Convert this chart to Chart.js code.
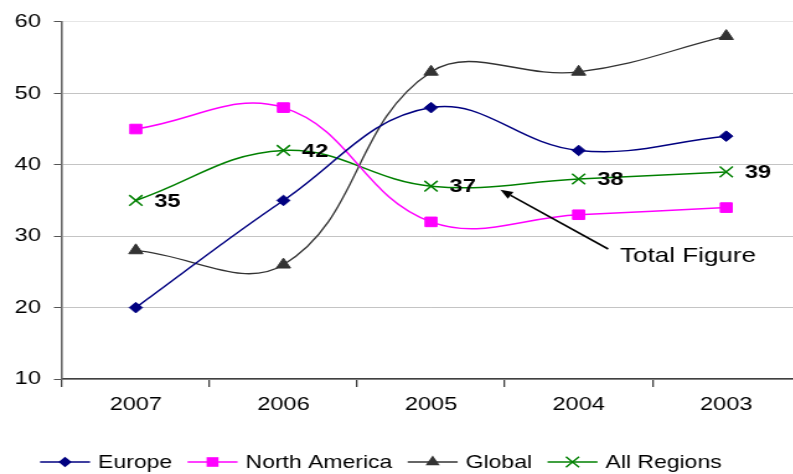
<!DOCTYPE html>
<html>
<head>
<meta charset="utf-8">
<script src="https://cdn.jsdelivr.net/npm/chart.js@4/dist/chart.umd.min.js"></script>
<style>
  html, body { margin: 0; padding: 0; background: #fff; overflow: hidden; width: 793px; height: 474px; }
  /* the chart is laid out narrow and widened horizontally */
  #frame { position: absolute; left: 0; top: 0; width: 680px; height: 474px; transform-origin: 0 0; transform: scaleX(1.24); }
</style>
</head>
<body>
<div id="frame"><canvas id="c"></canvas></div>
<script>
// ---- data ----
const years = ['2007', '2006', '2005', '2004', '2003'];
const europe = [20, 35, 48, 42, 44];
const northAmerica = [45, 48, 32, 33, 34];
const globalSeries = [28, 26, 53, 53, 58];
const allRegions = [35, 42, 37, 38, 39];
const yTicks = [10, 20, 30, 40, 50, 60];
const seriesNames = ['Europe', 'North America', 'Global', 'All Regions'];
const calloutText = 'Total Figure';

// ---- styling ----
const FONT = "'Liberation Sans', Arial, Helvetica, sans-serif";
const callout = { tip: [2.47, 36.5], tail: [3.2, 28.2], text: [3.28, 27.2] };

function drawMarker(ctx, style, x, y, r, color) {
  ctx.save();
  ctx.fillStyle = color;
  ctx.strokeStyle = color;
  ctx.lineWidth = 1.5;
  ctx.beginPath();
  if (style === 'rectRot') {
    ctx.moveTo(x - r, y); ctx.lineTo(x, y - r); ctx.lineTo(x + r, y); ctx.lineTo(x, y + r);
    ctx.closePath(); ctx.fill();
  } else if (style === 'rect') {
    const s = r * Math.SQRT1_2;
    ctx.rect(x - s, y - s, 2 * s, 2 * s); ctx.fill();
  } else if (style === 'triangle') {
    let a = 0;
    ctx.moveTo(x + Math.sin(a) * r, y - Math.cos(a) * r);
    a += 2 * Math.PI / 3;
    ctx.lineTo(x + Math.sin(a) * r, y - Math.cos(a) * r);
    a += 2 * Math.PI / 3;
    ctx.lineTo(x + Math.sin(a) * r, y - Math.cos(a) * r);
    ctx.closePath(); ctx.fill();
  } else if (style === 'crossRot') {
    const d = r * Math.SQRT1_2;
    ctx.moveTo(x - d, y - d); ctx.lineTo(x + d, y + d);
    ctx.moveTo(x - d, y + d); ctx.lineTo(x + d, y - d);
    ctx.stroke();
  }
  ctx.restore();
}

// bold values beside the All Regions markers
const valueLabels = {
  id: 'valueLabels',
  afterDatasetsDraw(chart) {
    const ctx = chart.ctx;
    const meta = chart.getDatasetMeta(3);
    ctx.save();
    ctx.font = 'bold 19px ' + FONT;
    ctx.fillStyle = '#000';
    ctx.textBaseline = 'middle';
    ctx.textAlign = 'left';
    meta.data.forEach((pt, i) => {
      ctx.fillText(String(allRegions[i]), pt.x + 15, pt.y + 1);
    });
    ctx.restore();
  }
};

// arrow and caption pointing at the All Regions line
const calloutPlugin = {
  id: 'callout',
  afterDatasetsDraw(chart) {
    const { ctx, scales: { x, y } } = chart;
    const tx = x.getPixelForValue(callout.tip[0]), ty = y.getPixelForValue(callout.tip[1]);
    const sx = x.getPixelForValue(callout.tail[0]), sy = y.getPixelForValue(callout.tail[1]);
    const ang = Math.atan2(ty - sy, tx - sx);
    const headLen = 10, headW = 4;
    const bx = tx - Math.cos(ang) * headLen, by = ty - Math.sin(ang) * headLen;
    ctx.save();
    ctx.strokeStyle = '#000';
    ctx.fillStyle = '#000';
    ctx.lineWidth = 1.6;
    ctx.beginPath();
    ctx.moveTo(sx, sy);
    ctx.lineTo(bx, by);
    ctx.stroke();
    ctx.beginPath();
    ctx.moveTo(tx, ty);
    ctx.lineTo(bx + Math.sin(ang) * headW, by - Math.cos(ang) * headW);
    ctx.lineTo(bx - Math.sin(ang) * headW, by + Math.cos(ang) * headW);
    ctx.closePath();
    ctx.fill();
    ctx.font = '21px ' + FONT;
    ctx.textBaseline = 'middle';
    ctx.textAlign = 'left';
    ctx.fillText(calloutText, x.getPixelForValue(callout.text[0]), y.getPixelForValue(callout.text[1]));
    ctx.restore();
  }
};

// legend row: line segment with its marker, then the series name
const lineLegend = {
  id: 'lineLegend',
  afterDraw(chart) {
    const ctx = chart.ctx;
    const yMid = 462;
    let xPos = 32.3;
    const symW = 40.3, gap = 6.5, itemGap = 12.5;
    ctx.save();
    ctx.font = '18.5px ' + FONT;
    ctx.textBaseline = 'middle';
    ctx.textAlign = 'left';
    chart.data.datasets.forEach(ds => {
      ctx.strokeStyle = ds.borderColor;
      ctx.lineWidth = ds.borderWidth;
      ctx.beginPath();
      ctx.moveTo(xPos, yMid);
      ctx.lineTo(xPos + symW, yMid);
      ctx.stroke();
      drawMarker(ctx, ds.pointStyle, xPos + symW / 2, yMid, ds.pointRadius, ds.pointBackgroundColor);
      ctx.fillStyle = '#000';
      ctx.fillText(ds.label, xPos + symW + gap, yMid + 1);
      xPos += symW + gap + ctx.measureText(ds.label).width + itemGap;
    });
    ctx.restore();
  }
};

const common = { fill: false, borderWidth: 1.5, pointBorderWidth: 1, pointHoverRadius: 0 };

new Chart(document.getElementById('c'), {
  type: 'line',
  data: {
    labels: years,
    datasets: [
      Object.assign({}, common, { label: seriesNames[0], data: europe, borderColor: '#000080', pointBackgroundColor: '#000080', pointBorderColor: '#000080', pointStyle: 'rectRot', pointRadius: 5.3 }),
      Object.assign({}, common, { label: seriesNames[1], data: northAmerica, borderColor: '#FF00FF', pointBackgroundColor: '#FF00FF', pointBorderColor: '#FF00FF', pointStyle: 'rect', pointRadius: 6.8 }),
      Object.assign({}, common, { label: seriesNames[2], data: globalSeries, borderColor: '#333333', pointBackgroundColor: '#333333', pointBorderColor: '#333333', pointStyle: 'triangle', pointRadius: 6.6, borderWidth: 1.3 }),
      Object.assign({}, common, { label: seriesNames[3], data: allRegions, borderColor: '#008000', pointBackgroundColor: '#008000', pointBorderColor: '#008000', pointStyle: 'crossRot', pointRadius: 7.5, pointBorderWidth: 1.5 })
    ]
  },
  options: {
    responsive: true,
    maintainAspectRatio: false,
    animation: false,
    events: [],
    layout: { padding: { left: 0, top: 21, right: 34.8, bottom: 55 } },
    elements: { line: { tension: 0.4 } },
    plugins: { legend: { display: false }, tooltip: { enabled: false } },
    scales: {
      x: {
        type: 'category',
        offset: true,
        grid: { offset: true, drawOnChartArea: false, drawTicks: true, tickLength: 8, tickColor: '#404040', lineWidth: 1.3 },
        border: { color: '#404040', width: 1.5 },
        ticks: { font: { family: FONT, size: 19 }, color: '#000', padding: 6, maxRotation: 0, autoSkip: false },
        afterFit(s) { s.height = 40; }
      },
      y: {
        min: 10,
        max: 60,
        afterBuildTicks(s) { s.ticks = yTicks.map(v => ({ value: v })); },
        ticks: { font: { family: FONT, size: 19 }, color: '#000', padding: 10.5 },
        grid: {
          color: c => (c.tick && c.tick.value === 60) ? '#e6e6e6' : '#c4c4c4',
          tickColor: '#555', tickLength: 6.5, lineWidth: 1
        },
        border: { color: '#666666', width: 1.6 },
        afterFit(s) { s.width = 50; }
      }
    }
  },
  plugins: [valueLabels, calloutPlugin, lineLegend]
});
</script>
</body>
</html>
